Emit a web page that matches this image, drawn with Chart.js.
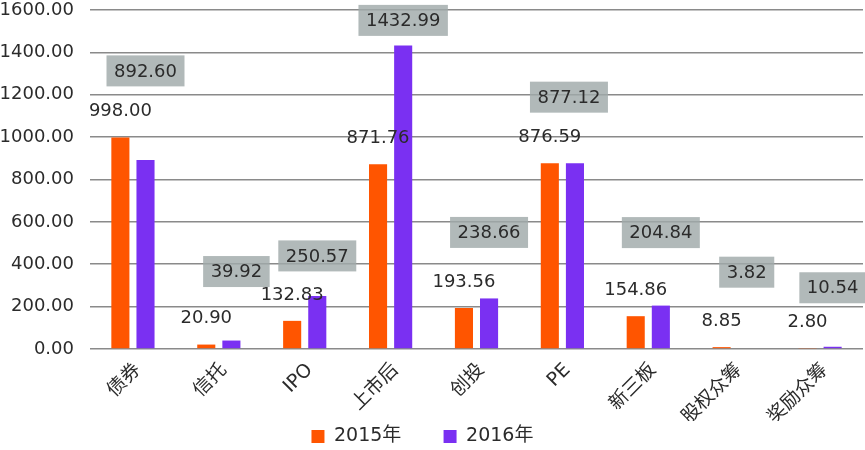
<!DOCTYPE html>
<html>
<head>
<meta charset="utf-8">
<script src="https://cdn.jsdelivr.net/npm/chart.js@4"></script>
<style>
  html, body { margin: 0; padding: 0; background: #fff; }
  #wrap { width: 865px; height: 450px; }
</style>
</head>
<body>
<div id="wrap"><canvas id="chart"></canvas></div>
<script>
const categories = ["债券", "信托", "IPO", "上市后", "创投", "PE", "新三板", "股权众筹", "奖励众筹"];
const values2015 = [998.00, 20.90, 132.83, 871.76, 193.56, 876.59, 154.86, 8.85, 2.80];
const values2016 = [892.60, 39.92, 250.57, 1432.99, 238.66, 877.12, 204.84, 3.82, 10.54];
const seriesNames = ["2015年", "2016年"];

const FONT = "'DejaVu Sans', 'Noto Sans CJK SC', sans-serif";

// where the grey 2016 boxes sit, in px above the bar top (hand placed like in the original)
const boxLift = [89, 69, 40, 25, 66, 66, 73, 76, 59];
const boxShift = [0, 5, 0, 0, 0, -6, 0, 0, 0];

const valueLabels = {
  id: "valueLabels",
  afterDatasetsDraw(chart) {
    const ctx = chart.ctx;
    ctx.save();
    ctx.font = "18px " + FONT;
    ctx.textAlign = "center";
    ctx.textBaseline = "middle";

    chart.getDatasetMeta(0).data.forEach((bar, i) => {
      ctx.fillStyle = "#2b2b2b";
      ctx.fillText(values2015[i].toFixed(2), bar.x, bar.y - 26);
    });

    chart.getDatasetMeta(1).data.forEach((bar, i) => {
      const txt = values2016[i].toFixed(2);
      const w = ctx.measureText(txt).width + 15;
      const h = 31;
      const cx = bar.x + boxShift[i];
      const cy = bar.y - boxLift[i];
      ctx.fillStyle = "rgba(160,170,170,0.82)";
      ctx.fillRect(cx - w / 2, cy - h / 2, w, h);
      ctx.fillStyle = "#2b2b2b";
      ctx.fillText(txt, cx, cy + 1);
    });
    ctx.restore();
  }
};

new Chart(document.getElementById("chart"), {
  type: "bar",
  data: {
    labels: categories,
    datasets: [
      { label: seriesNames[0], data: values2015, backgroundColor: "#ff5500" },
      { label: seriesNames[1], data: values2016, backgroundColor: "#7a30f2" }
    ]
  },
  options: {
    responsive: true,
    maintainAspectRatio: false,
    animation: false,
    datasets: {
      bar: { categoryPercentage: 0.585, barPercentage: 0.72 }
    },
    layout: { padding: { top: 10, right: 2, left: 0, bottom: -6 } },
    plugins: {
      tooltip: { enabled: false },
      legend: {
        position: "bottom",
        labels: {
          font: { family: FONT, size: 19 },
          color: "#2b2b2b",
          boxWidth: 13,
          boxHeight: 13,
          padding: 6,
          generateLabels(chart) {
            const gaps = ["      ", "   "];
            return Chart.defaults.plugins.legend.labels.generateLabels(chart).map((it, i) => {
              it.text = it.text + gaps[i];
              return it;
            });
          }
        }
      }
    },
    scales: {
      x: {
        grid: { display: false },
        border: { display: false },
        afterFit(scale) {
          scale.height = 72;
          scale.paddingLeft = 0;
          scale.paddingRight = 0;
        },
        ticks: {
          font: { family: FONT, size: 19 },
          color: "#2b2b2b",
          maxRotation: 45,
          minRotation: 45,
          padding: 2,
          labelOffset: 5
        }
      },
      y: {
        min: 0,
        max: 1600,
        border: { display: false },
        grid: { color: "#8a8a8a", lineWidth: 1.6, drawTicks: false },
        afterFit(scale) {
          scale.width = 90;
          scale.paddingTop = 0;
          scale.paddingBottom = 0;
        },
        ticks: {
          stepSize: 200,
          font: { family: FONT, size: 18 },
          color: "#2b2b2b",
          padding: 16,
          callback: v => v.toFixed(2)
        }
      }
    }
  },
  plugins: [valueLabels]
});
</script>
</body>
</html>
